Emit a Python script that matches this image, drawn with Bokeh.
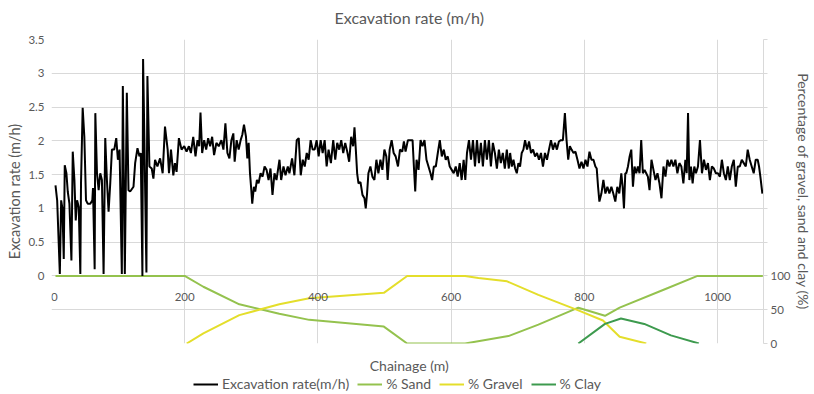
from bokeh.plotting import figure
from bokeh.layouts import column
from bokeh.models import Range1d, LinearAxis, FixedTicker, Legend, LegendItem, Label
from bokeh.embed import file_html
from bokeh.resources import INLINE

# ---------------- data ----------------
# excavation rate (m/h) vs chainage (m) in segments
ch_a = [6.0, 8.5, 12.5, 14.5, 16.4, 18.4, 19.9, 22.4, 24.4, 26.9, 29.9, 31.9, 34.4, 36.4, 38.4, 40.9, 43.3, 44.3, 46.8, 49.3,
        51.8, 54.3, 58.3, 61.3, 62.3, 64.8, 65.8, 68.3, 70.8, 73.2, 75.7, 78.2, 80.7, 83.2, 85.7, 88.2, 90.7, 94.2, 97.2, 99.7,
        102.2, 105.6, 107.1, 110.1, 113.1, 115.6, 118.1, 123.1, 125.6, 129.1, 132.0, 134.0, 136.5, 137.5, 139.5, 142.5, 144.0, 147.0, 150.5, 153.0,
        155.5, 159.0, 163.0, 166.9]
rate_a = [1.34, 1.12, 0.03, 1.12, 1.00, 0.25, 1.64, 1.52, 1.25, 1.07, 0.23, 1.84, 1.42, 0.82, 1.12, 1.02, 0.03, 1.37, 2.49, 2.06,
          1.12, 1.07, 1.07, 1.12, 1.30, 0.10, 2.41, 1.52, 1.27, 1.52, 1.42, 0.03, 2.04, 1.42, 0.95, 1.37, 1.87, 1.87, 2.04, 1.72,
          1.87, 0.03, 2.81, 0.03, 2.71, 1.27, 1.25, 1.32, 1.67, 1.89, 1.77, 1.82, 0.00, 3.21, 2.00, 0.05, 2.96, 1.62, 1.59, 1.44,
          1.72, 1.62, 1.74, 1.52]

ch_b = [170.4, 174.4, 176.4, 179.4, 182.9, 185.3, 187.8, 191.3, 195.3, 199.3, 202.8, 206.3, 209.3, 212.8, 216.2, 219.2, 221.7, 223.7, 226.2, 229.2,
        232.2, 235.2, 238.2, 241.2, 244.1, 247.6, 251.1, 255.1, 258.1, 261.1, 264.1, 267.1, 270.1, 273.0, 275.0, 278.0, 281.0, 284.0, 286.5, 289.0,
        292.0, 294.0, 296.0, 298.0, 300.0, 301.4, 303.9, 305.9, 308.4, 310.9, 313.9, 316.9, 319.9, 322.9, 325.9, 328.8, 331.8, 334.8, 337.8]
rate_b = [2.21, 1.87, 1.52, 1.87, 1.49, 1.67, 1.54, 2.04, 1.87, 1.92, 1.84, 1.92, 1.82, 2.06, 1.77, 2.01, 1.92, 2.42, 1.82, 2.01,
          1.87, 2.04, 1.92, 2.06, 1.79, 1.97, 1.92, 2.01, 1.87, 2.26, 1.82, 1.74, 2.01, 2.11, 1.69, 2.01, 1.87, 2.01, 2.09, 2.24,
          2.06, 1.74, 1.97, 1.52, 1.27, 1.07, 1.32, 1.25, 1.42, 1.37, 1.52, 1.47, 1.62, 1.57, 1.42, 1.59, 1.20, 1.52, 1.42]

ch_c = [342.3, 344.8, 348.3, 351.3, 354.8, 357.2, 361.2, 364.7, 368.2, 371.2, 374.2, 377.2, 380.2, 383.2, 386.1, 389.1, 392.1, 395.1, 398.1, 401.1,
        404.1, 407.1, 410.1, 413.1, 416.0, 419.5, 423.0, 426.0, 429.0, 432.0, 435.0, 438.0, 441.0, 444.0, 446.9, 449.9, 452.9, 454.9, 456.9, 458.9,
        460.9, 463.9, 466.9, 469.9, 471.8, 473.8, 475.8, 478.8, 481.8, 484.8, 487.8, 490.8, 493.8, 496.8, 499.8, 502.7, 504.7, 507.7, 510.7, 513.7]
rate_c = [1.72, 1.42, 1.62, 1.49, 1.62, 1.52, 1.74, 1.49, 2.01, 2.04, 1.49, 1.72, 1.62, 1.82, 1.72, 2.01, 1.87, 1.87, 2.01, 1.77,
          2.01, 1.82, 2.01, 1.62, 1.87, 1.67, 2.01, 1.72, 1.97, 1.87, 2.01, 1.82, 1.97, 1.84, 1.69, 2.06, 1.92, 2.20, 1.87, 1.52,
          1.37, 1.39, 1.20, 1.15, 1.00, 1.22, 1.52, 1.62, 1.47, 1.42, 1.72, 1.52, 1.72, 1.57, 1.87, 1.77, 1.42, 1.87, 2.01, 1.82]

ch_d = [516.7, 520.2, 523.2, 526.7, 529.1, 531.6, 535.1, 539.1, 542.1, 544.1, 546.1, 548.1, 551.1, 554.1, 557.0, 560.0, 563.0, 566.0, 569.0, 571.5,
        574.0, 577.0, 580.0, 583.0, 586.0, 589.0, 591.9, 594.9, 597.9, 600.9, 603.9, 606.9, 609.9, 612.9, 615.8, 618.8, 621.3, 623.8, 626.8, 629.8,
        632.8, 635.8, 638.8, 641.8, 644.7, 647.7, 650.7, 653.7, 656.7, 659.7, 662.7, 665.7, 668.7, 671.7, 674.6, 677.6, 680.6, 683.6, 686.6]
rate_d = [1.77, 1.62, 1.87, 1.84, 1.99, 1.84, 2.01, 2.01, 2.01, 1.62, 1.25, 1.72, 1.57, 2.01, 1.92, 2.01, 1.72, 1.62, 1.52, 1.42,
          1.62, 1.62, 1.82, 2.01, 1.77, 1.87, 1.72, 1.77, 1.62, 1.57, 1.52, 1.62, 1.47, 1.67, 1.42, 1.72, 1.42, 1.82, 2.01, 1.72,
          2.01, 1.62, 2.01, 1.67, 1.97, 1.62, 2.01, 1.72, 2.01, 1.62, 1.97, 1.82, 1.59, 1.87, 1.67, 1.82, 1.59, 1.87, 1.59]

ch_e = [688.6, 691.1, 693.6, 696.1, 698.6, 701.0, 703.5, 706.0, 708.5, 711.0, 714.0, 717.0, 720.0, 723.0, 726.0, 729.0, 731.9, 734.9, 737.9, 740.9,
        743.9, 746.9, 749.9, 752.9, 755.9, 758.8, 761.8, 764.8, 767.8, 770.8, 773.3, 775.8, 778.3, 780.8, 783.8, 786.7, 789.7, 792.7, 795.7, 798.7,
        801.7, 804.7, 807.7, 810.7, 813.7, 816.6, 818.6, 820.6, 822.6, 825.6, 828.6, 831.6, 834.6, 837.6, 840.6, 843.5, 846.5, 849.5, 852.5, 855.5,
        857.5, 859.5, 861.5]
rate_e = [1.82, 1.62, 1.72, 1.59, 1.52, 1.67, 1.62, 1.82, 1.87, 2.01, 1.87, 1.99, 1.82, 1.87, 1.77, 1.82, 1.72, 1.82, 1.62, 1.82,
          1.72, 1.87, 2.01, 1.87, 1.97, 1.87, 1.99, 2.01, 2.01, 2.41, 2.01, 1.72, 1.92, 1.87, 1.82, 1.84, 1.72, 1.59, 1.69, 1.59,
          1.72, 1.62, 1.84, 1.72, 1.72, 1.62, 1.59, 1.32, 1.10, 1.22, 1.42, 1.22, 1.32, 1.22, 1.32, 1.22, 1.10, 1.32, 1.22, 1.52,
          1.32, 1.00, 1.52]

ch_f = [863.0, 865.5, 868.0, 870.5, 873.0, 875.4, 877.9, 880.4, 882.9, 885.4, 887.9, 890.4, 892.9, 895.4, 897.9, 900.8, 903.8, 906.8, 909.8, 912.8,
        915.8, 918.8, 921.8, 924.8, 927.8, 930.7, 933.7, 936.7, 939.7, 942.7, 945.7, 948.7, 951.7, 953.7, 955.7, 957.7, 960.1, 962.6, 965.1, 967.6,
        970.6, 973.6, 976.6, 979.6, 982.6, 985.6, 988.5, 991.5, 994.5, 997.5, 1000.5, 1003.5, 1006.5, 1009.5, 1012.5, 1015.4, 1018.4, 1021.4, 1024.4, 1027.4,
        1030.4, 1033.4, 1036.4, 1039.4, 1042.4, 1045.3, 1048.3, 1051.3, 1054.3, 1057.3, 1060.3, 1062.3, 1064.3, 1067.3]
rate_f = [1.52, 1.62, 1.77, 1.87, 1.32, 1.62, 1.52, 1.62, 1.52, 2.01, 1.52, 1.57, 1.52, 1.47, 1.27, 1.72, 1.57, 1.42, 1.52, 1.37,
          1.15, 1.62, 1.47, 1.72, 1.62, 1.72, 1.62, 1.72, 1.52, 1.67, 1.62, 1.37, 1.72, 1.52, 2.41, 1.42, 1.62, 1.37, 1.62, 1.52,
          1.62, 2.01, 1.52, 1.72, 1.57, 1.67, 1.42, 1.62, 1.59, 1.52, 1.52, 1.47, 1.72, 1.52, 1.42, 1.62, 1.42, 1.62, 1.72, 1.32,
          1.62, 1.62, 1.72, 1.67, 1.62, 1.87, 1.72, 1.62, 1.52, 1.72, 1.72, 1.62, 1.47, 1.22]

# soil composition (%) vs chainage (m)
sand_ch = [6, 200, 228, 282, 342, 387, 499, 534, 621, 686, 731, 791, 831, 853, 920, 970, 1068]
sand_pct = [100, 100, 84, 58, 44, 35, 25, 0, 0, 11, 28, 53, 41, 53, 80, 100, 100]
gravel_ch = [203, 228, 282, 342, 387, 499, 534, 621, 641, 684, 731, 791, 828, 853, 893]
gravel_pct = [0, 15, 42, 58, 67, 75, 100, 100, 97, 92, 72, 49, 34, 10, 0]
clay_ch = [791, 831, 855, 890, 930, 972]
clay_pct = [0, 29, 37, 29, 12, 0]

x_ticks = [0, 200, 400, 600, 800, 1000]
rate_ticks = [0, 0.5, 1, 1.5, 2, 2.5, 3, 3.5]
grid_ticks = [-1, -0.5, 0, 0.5, 1, 1.5, 2, 2.5, 3, 3.5]
pct_ticks = [0, 50, 100, 150, 200, 250, 300, 350, 400, 450]

# ---------------- styling ----------------
FONT = "Lato"
GRAY = "#595959"
GRID = "#d9d9d9"
C_SAND = "#94C24E"
C_GRAVEL = "#E4DE2B"
C_CLAY = "#3D9A4E"
NAN = float("nan")

ch_all = ch_a + ch_b + ch_c + ch_d + ch_e + ch_f
rate_all = rate_a + rate_b + rate_c + rate_d + rate_e + rate_f


def strip(height):
    f = figure(width=814, height=height, x_range=Range1d(0, 814), y_range=Range1d(0, height),
               output_backend="svg", toolbar_location=None,
               min_border_left=0, min_border_right=0, min_border_top=0, min_border_bottom=0,
               x_axis_type=None, y_axis_type=None)
    f.outline_line_color = None
    f.grid.visible = False
    f.background_fill_color = "white"
    f.border_fill_color = "white"
    return f


# ---------- title strip ----------
t = strip(30)
t.add_layout(Label(x=409, y=13, text="Excavation rate (m/h)", text_font=FONT, text_font_size="16px",
                   text_color=GRAY, text_align="center", text_baseline="middle"))

# ---------- main chart ----------
p = figure(width=814, height=321, x_range=Range1d(0, 1069), y_range=Range1d(-1, 3.5),
           output_backend="svg", toolbar_location=None,
           min_border_left=51, min_border_right=47, min_border_top=9, min_border_bottom=8)
p.extra_y_ranges = {"pct": Range1d(0, 450)}
p.outline_line_color = None
p.background_fill_color = "white"
p.border_fill_color = "white"

# x axis drawn at y = 0 (tick labels only)
xa = p.xaxis[0]
xa.ticker = FixedTicker(ticks=x_ticks)
xa.fixed_location = 0
xa.axis_line_color = None
xa.major_tick_line_color = None
xa.minor_tick_line_color = None
xa.major_label_text_font = FONT
xa.major_label_text_font_size = "11.5px"
xa.major_label_text_color = GRAY
xa.major_label_standoff = 8
xa.major_label_overrides = {0: "\u20020"}

ya = p.yaxis[0]
ya.ticker = FixedTicker(ticks=rate_ticks)
ya.axis_line_color = None
ya.major_tick_line_color = None
ya.minor_tick_line_color = None
ya.major_tick_out = 0
ya.major_tick_in = 0
ya.major_label_text_font = FONT
ya.major_label_text_font_size = "11.5px"
ya.major_label_text_color = GRAY
ya.major_label_standoff = 7
ya.axis_label = "Excavation rate (m/h)"
ya.axis_label_standoff = 2
ya.axis_label_text_font = FONT
ya.axis_label_text_font_size = "14.5px"
ya.axis_label_text_font_style = "normal"
ya.axis_label_text_color = GRAY

ra = LinearAxis(y_range_name="pct", ticker=FixedTicker(ticks=pct_ticks),
                major_label_overrides={t_: "" for t_ in pct_ticks if t_ > 100},
                axis_label="Percentage of gravel, sand and clay (%)")
ra.axis_line_color = GRID
ra.major_tick_line_color = GRID
ra.major_tick_out = 4
ra.major_tick_in = 0
ra.minor_tick_line_color = None
ra.major_label_text_font = FONT
ra.major_label_text_font_size = "11.5px"
ra.major_label_text_color = GRAY
ra.major_label_standoff = 3
ra.axis_label_standoff = 1
ra.axis_label_text_font = FONT
ra.axis_label_text_font_size = "14px"
ra.axis_label_text_font_style = "normal"
ra.axis_label_text_color = GRAY
p.add_layout(ra, "right")

p.xgrid.ticker = FixedTicker(ticks=x_ticks)
p.ygrid.ticker = FixedTicker(ticks=grid_ticks)
p.xgrid.grid_line_color = GRID
p.ygrid.grid_line_color = GRID

p.line(sand_ch, sand_pct, y_range_name="pct", line_color=C_SAND, line_width=2)
p.line(gravel_ch, gravel_pct, y_range_name="pct", line_color=C_GRAVEL, line_width=2)
p.line(clay_ch, clay_pct, y_range_name="pct", line_color=C_CLAY, line_width=2)
p.line(ch_all, rate_all, line_color="black", line_width=2)

# ---------- strip below the chart: axis title + legend ----------
q = strip(43)
q.add_layout(Label(x=409, y=29, text="Chainage (m)", text_font=FONT, text_font_size="14px",
                   text_color=GRAY, text_align="center", text_baseline="middle"))

# legend-only renderers (a single NaN point, nothing visible)
s_rate = q.line(x=[NAN], y=[NAN], line_color="black", line_width=2)
s_sand = q.line(x=[NAN], y=[NAN], line_color=C_SAND, line_width=2)
s_gravel = q.line(x=[NAN], y=[NAN], line_color=C_GRAVEL, line_width=2)
s_clay = q.line(x=[NAN], y=[NAN], line_color=C_CLAY, line_width=2)

legend = Legend(items=[LegendItem(label="Excavation rate(m/h)", renderers=[s_rate]),
                       LegendItem(label="% Sand", renderers=[s_sand]),
                       LegendItem(label="% Gravel", renderers=[s_gravel]),
                       LegendItem(label="% Clay", renderers=[s_clay])],
                orientation="horizontal", location=(142, 2))
legend.label_text_font = FONT
legend.label_text_font_size = "14px"
legend.label_text_color = GRAY
legend.glyph_width = 25
legend.glyph_height = 12
legend.label_height = 12
legend.label_standoff = 4
legend.spacing = 8
legend.padding = 1
legend.margin = 0
legend.border_line_color = None
legend.background_fill_alpha = 0
q.add_layout(legend)

layout = column(t, p, q, spacing=0)
open("out.html", "w").write(file_html(layout, INLINE))
